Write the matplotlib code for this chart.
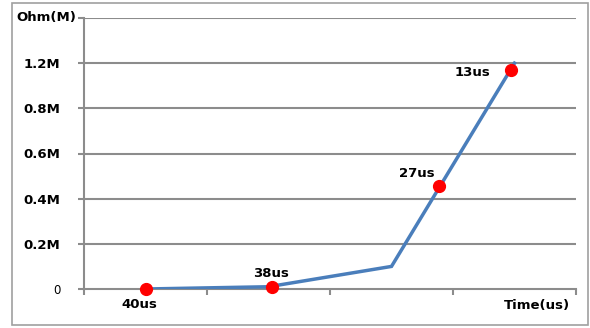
import matplotlib
matplotlib.use("Agg")
import matplotlib.pyplot as plt
from matplotlib.patches import Rectangle

plt.rcParams["font.family"] = ["DejaVu Sans"]

# line series (one value per category slot, y in gridline units of 0.2)
line_x = [0.5, 1.5, 2.5, 3.5]
line_y = [0.0, 0.01, 0.10, 1.0]

# red measurement points
pt_x = [0.5, 1.53, 2.89, 3.47]
pt_y = [0.0, 0.01, 0.455, 0.97]
pt_labels = ["40us", "38us", "27us", "13us"]

y_ticks = [0.0, 0.2, 0.4, 0.6, 0.8, 1.0, 1.2]
y_labels = ["0", "0.2M", "0.4M", "0.6M", "0.8M", "1.2M", ""]
x_ticks = [0, 1, 2, 3, 4]

grid_col = "#8c8c8c"
line_col = "#4a7ebb"
fsize = 9.5

fig = plt.figure(figsize=(5.9, 3.28), dpi=100)
fig.patches.append(Rectangle((12 / 590, 3 / 328), 576 / 590, 322 / 328,
                             transform=fig.transFigure, fill=False,
                             edgecolor="#a0a0a0", linewidth=1.2))
ax = fig.add_axes([84 / 590, 39 / 328, 492 / 590, 271 / 328])

ax.set_xlim(0, 4)
ax.set_ylim(0, 1.2)
for yv in y_ticks[1:]:
    ax.axhline(yv, color=grid_col, linewidth=1.5, zorder=1)

ax.plot(line_x, line_y, color=line_col, linewidth=2.5, zorder=3,
        solid_joinstyle="miter")
ax.plot(pt_x, pt_y, "o", color="#ff0000", markersize=8.5, zorder=4,
        clip_on=False)

ax.set_yticks(y_ticks)
ax.set_yticklabels(y_labels)
for lab in ax.get_yticklabels():
    if lab.get_text() != "0":
        lab.set_fontweight("bold")
        lab.set_fontsize(fsize)
    else:
        lab.set_fontsize(8.5)
ax.set_xticks(x_ticks)
ax.set_xticklabels([])
ax.tick_params(axis="y", length=4, width=1.5, color=grid_col, pad=13)
ax.tick_params(axis="x", length=4, width=1.5, color=grid_col, direction="out")

for side in ["top", "right"]:
    ax.spines[side].set_visible(False)
for side in ["left", "bottom"]:
    ax.spines[side].set_color(grid_col)
    ax.spines[side].set_linewidth(1.5)

ax.text(-0.015, 1.2, "Ohm(M)", ha="right", va="center", fontsize=fsize,
        fontweight="bold", transform=ax.get_yaxis_transform())
ax.annotate("Time(us)", (1, 0), xycoords="axes fraction", xytext=(-6, -17),
            textcoords="offset pixels", ha="right", va="center",
            fontsize=fsize, fontweight="bold")

offsets = [(-6, -15, "center", "center"), (-1, 13, "center", "center"),
           (-5, 13, "right", "center"), (-20, -3, "right", "center")]
for xv, yv, s, (dx, dy, ha, va) in zip(pt_x, pt_y, pt_labels, offsets):
    ax.annotate(s, (xv, yv), xytext=(dx, dy), textcoords="offset pixels",
                ha=ha, va=va, fontsize=fsize, fontweight="bold", zorder=5)

fig.savefig("out.png", dpi=100, facecolor="white")
